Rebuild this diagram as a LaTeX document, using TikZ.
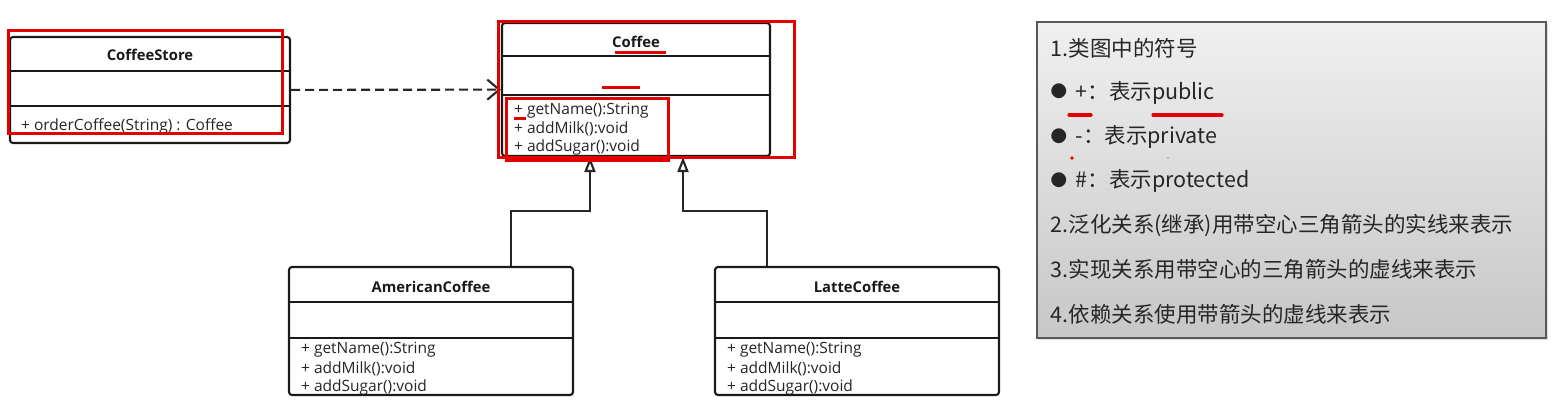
\documentclass[tikz,border=0pt]{standalone}
\usepackage{fontspec}
\setmainfont{Noto Sans CJK SC}
\newfontfamily\umlfont{Open Sans}
\usetikzlibrary{%
    arrows.meta,
    positioning,
    shadows
}

\newcommand\notebullet{\raisebox{1.5pt}{\fontsize{16.5}{16.5}\selectfont ●}\hspace{8.5pt}}

\tikzset{
    classbox/.style={draw=black!90, fill=white, line width=2.1pt,
        rounded corners=3pt, inner sep=0pt},
    classname/.style={font=\umlfont\bfseries\fontsize{14.8}{16}\selectfont, text=black!90, inner sep=0pt},
    member/.style={font=\umlfont\fontsize{15.5}{16}\selectfont, text=black!85, inner sep=0pt, anchor=west},
    divider/.style={draw=black!90, line width=2.1pt},
    depend/.style={draw=black!85, line width=2.1pt, dash pattern=on 9pt off 5pt,
        -{Straight Barb[length=12pt, width=20pt]}},
    inherit/.style={draw=black!85, line width=2.1pt,
        -{Triangle[open, length=15pt, width=11pt, fill=white]}},
    redpen/.style={draw=red!90!black, line width=3pt},
    notebox/.style={draw=black!65, line width=1.2pt, top color=black!6,
        bottom color=black!22, inner sep=0pt,
        drop shadow={shadow xshift=2pt, shadow yshift=-2pt, opacity=0.25}},
    notetext/.style={font=\fontsize{21.5}{26}\selectfont, text=black!85,
        inner sep=0pt, anchor=west}
}

\begin{document}
\begin{tikzpicture}[x=1pt, y=-1pt]
    \useasboundingbox (0,0) rectangle (1565,402);

    % classes
    \node[classbox, minimum width=280pt, minimum height=106pt] (store) at (150,90) {};
    \node[classbox, minimum width=268pt, minimum height=133pt] (coffee) at (636,89.5) {};
    \node[classbox, minimum width=284pt, minimum height=128pt] (american) at (431,331) {};
    \node[classbox, minimum width=284pt, minimum height=128pt] (latte) at (857,331) {};

    \foreach \Class/\Top/\Bottom in {store/35/70, coffee/34/73, american/36/72, latte/36/72} {
        \draw[divider] ([yshift=-\Top pt]\Class.north west) -- ([yshift=-\Top pt]\Class.north east);
        \draw[divider] ([yshift=-\Bottom pt]\Class.north west) -- ([yshift=-\Bottom pt]\Class.north east);
    }

    \node[classname] (store-name) at ([yshift=-19pt]store.north) {CoffeeStore};
    \node[classname] (coffee-name) at ([yshift=-20pt]coffee.north) {Coffee};
    \node[classname] (american-name) at ([yshift=-21pt]american.north) {AmericanCoffee};
    \node[classname] (latte-name) at ([yshift=-21pt]latte.north) {LatteCoffee};

    \node[member] (store-m1) at ([xshift=12pt, yshift=-90.5pt]store.north west) {+ orderCoffee(String) : Coffee};
    \foreach \Method [count=\i] in {getName():String, addMilk():void, addSugar():void} {
        \node[member] (coffee-m\i) at ([xshift=13pt, yshift={(-70-18.5*\i)*1pt}]coffee.north west) {+ \Method};
        \node[member] (american-m\i) at ([xshift=13pt, yshift={(-64.5-19*\i)*1pt}]american.north west) {+ \Method};
        \node[member] (latte-m\i) at ([xshift=13pt, yshift={(-64.5-19*\i)*1pt}]latte.north west) {+ \Method};
    }

    % relations
    \draw[depend] (store) -- (coffee);
    \draw[inherit] ([xshift=80pt]american.north) -- ++(0,-55) -| ([xshift=-46pt]coffee.south);
    \draw[inherit] ([xshift=-90pt]latte.north) -- ++(0,-55) -| ([xshift=47pt]coffee.south);

    % red marks
    \draw[redpen] (8,30) rectangle (282,133);
    \draw[redpen] (498,21) rectangle (794,157);
    \draw[redpen] (506,98) rectangle (668,160);
    \draw[redpen] (615,52) -- (666,52);
    \draw[redpen] (602,87) -- (640,87);
    \draw[redpen] (514,118) -- (526,118);

    % notes
    \node[notebox, minimum width=509pt, minimum height=316pt] (note) at (1291.5,180) {};
    \foreach \Line [count=\i] in {1.类图中的符号, \notebullet+：表示public, \notebullet-：表示private,
        \notebullet\#：表示protected,
        2.泛化关系(继承)用带空心三角箭头的实线来表示, 3.实现关系用带空心的三角箭头的虚线来表示,
        4.依赖关系使用带箭头的虚线来表示}
        \node[notetext] (note-\i) at ([xshift=14pt, yshift={(17-44.2*\i)*1pt}]note.north west) {\Line};

    \draw[redpen, line width=3.2pt, line cap=round] (1069,115) -- (1091,115);
    \draw[redpen, line width=3.2pt, line cap=round] (1153,115) -- (1222,115);
    \fill[red!90!black] (1072,158) circle (1.8pt);
    \fill[red!60] (1168,158) circle (0.8pt);
\end{tikzpicture}
\end{document}
